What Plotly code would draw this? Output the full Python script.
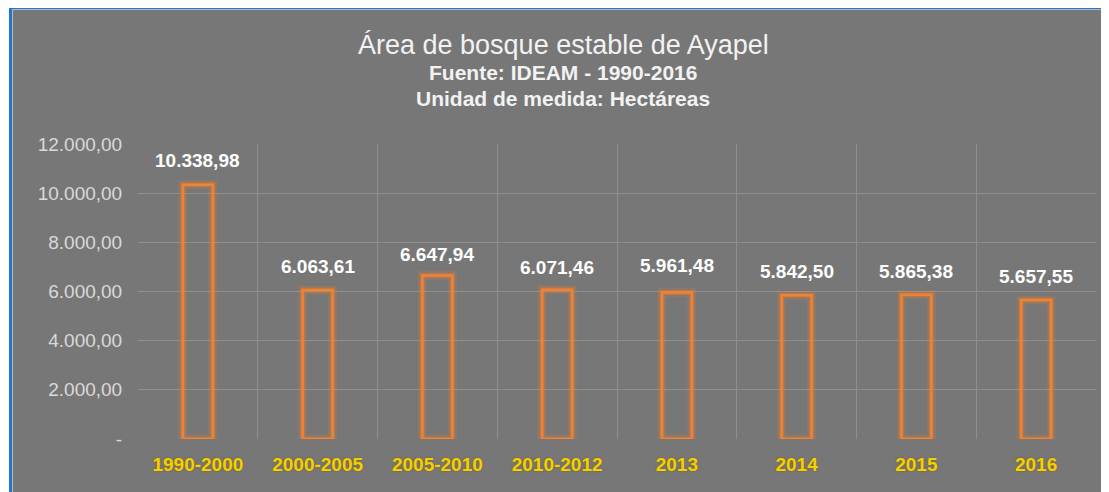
import plotly.graph_objects as go

categories = ["1990-2000", "2000-2005", "2005-2010", "2010-2012", "2013", "2014", "2015", "2016"]
values = [10338.98, 6063.61, 6647.94, 6071.46, 5961.48, 5842.50, 5865.38, 5657.55]
value_labels = ["10.338,98", "6.063,61", "6.647,94", "6.071,46", "5.961,48", "5.842,50", "5.865,38", "5.657,55"]
label_shift = [24, 23, 21, 22, 27, 24, 23, 23]
y_tickvals = [0, 2000, 4000, 6000, 8000, 10000, 12000]
y_ticktext = ["-", "2.000,00", "4.000,00", "6.000,00", "8.000,00", "10.000,00", "12.000,00"]

W, H = 1109, 492
OFF = 8  # page body margin offset
ML, MT = 138 - OFF, 144 - OFF
MR = W - (1096 - OFF)
MB = H - (439 - OFF)
PW, PH = W - ML - MR, H - MT - MB

def px(x):
    return (x - OFF - ML) / PW

def py(y):
    return (H - MB - (y - OFF)) / PH

BG = "#777777"
GRID = "#8F8F8F"
FONT = "Liberation Sans, Arial, sans-serif"

fig = go.Figure()
# glow layers
fig.add_trace(go.Bar(
    x=categories, y=values, width=0.25,
    marker=dict(color="rgba(0,0,0,0)", line=dict(color="rgba(240,128,48,0.18)", width=9)),
    hoverinfo="skip", showlegend=False,
))
fig.add_trace(go.Bar(
    x=categories, y=values, width=0.25,
    marker=dict(color="rgba(0,0,0,0)", line=dict(color="rgba(240,128,48,0.35)", width=5)),
    hoverinfo="skip", showlegend=False,
))
# main outline
fig.add_trace(go.Bar(
    x=categories, y=values, width=0.25,
    marker=dict(color="rgba(0,0,0,0)", line=dict(color="#F2822F", width=2.5)),
    showlegend=False,
))

for i, (v, t, s) in enumerate(zip(values, value_labels, label_shift)):
    fig.add_annotation(x=i, y=v, text=f"<b>{t}</b>", showarrow=False, yshift=s,
                       xanchor="center", yanchor="middle",
                       font=dict(family=FONT, size=19, color="#FFFFFF"))

# titles
tx = px(563)
fig.add_annotation(x=tx, y=py(45), xref="paper", yref="paper", showarrow=False,
                   text="Área de bosque estable de Ayapel", xanchor="center", yanchor="middle",
                   font=dict(family=FONT, size=27, color="#F2F2F2"))
fig.add_annotation(x=tx, y=py(72), xref="paper", yref="paper", showarrow=False,
                   text="<b>Fuente: IDEAM - 1990-2016</b>", xanchor="center", yanchor="middle",
                   font=dict(family=FONT, size=21, color="#F2F2F2"))
fig.add_annotation(x=tx, y=py(98), xref="paper", yref="paper", showarrow=False,
                   text="<b>Unidad de medida: Hectáreas</b>", xanchor="center", yanchor="middle",
                   font=dict(family=FONT, size=21, color="#F2F2F2"))

# frame: white margins and blue border
fig.add_shape(type="rect", xref="paper", yref="paper", x0=px(-10), x1=px(W + 10), y0=py(-10), y1=py(6),
              fillcolor="white", line=dict(width=0), layer="above")
fig.add_shape(type="rect", xref="paper", yref="paper", x0=px(-10), x1=px(9), y0=py(H + 10), y1=py(-10),
              fillcolor="white", line=dict(width=0), layer="above")
fig.add_shape(type="line", xref="paper", yref="paper", x0=px(10), x1=px(W + 10), y0=py(7.5), y1=py(7.5),
              line=dict(color="#1F77D0", width=3), layer="above")
fig.add_shape(type="line", xref="paper", yref="paper", x0=px(10.5), x1=px(10.5), y0=py(6), y1=py(H + 10),
              line=dict(color="#1F77D0", width=3), layer="above")
fig.add_shape(type="line", xref="paper", yref="paper", x0=px(12), x1=px(W + 10), y0=py(9.5), y1=py(9.5),
              line=dict(color="#B8B8B8", width=1), layer="above")
fig.add_shape(type="line", xref="paper", yref="paper", x0=px(12.5), x1=px(12.5), y0=py(9), y1=py(H + 10),
              line=dict(color="#B8B8B8", width=1), layer="above")

fig.update_layout(
    width=W, height=H,
    margin=dict(l=ML, r=MR, t=MT, b=MB, pad=0, autoexpand=False),
    paper_bgcolor=BG, plot_bgcolor=BG,
    barmode="overlay",
    showlegend=False,
    font=dict(family=FONT),
)
fig.update_xaxes(
    type="category", range=[-0.5, len(categories) - 0.5], autorange=False,
    tickson="boundaries", showgrid=True, gridcolor=GRID, gridwidth=1,
    showline=False, zeroline=False, ticks="outside", ticklen=14, tickcolor=BG,
    ticklabelstandoff=12,
    tickangle=0, automargin=False,
    tickfont=dict(family=FONT, size=19, color="#F5D000", shadow="0px 0px 2px rgba(120,90,0,0.8)"),
    tickprefix="<b>", ticksuffix="</b>",
)
fig.update_yaxes(
    range=[0, 12000], autorange=False, tickvals=y_tickvals, ticktext=y_ticktext,
    showgrid=True, gridcolor=GRID, gridwidth=1, zeroline=False, showline=False,
    ticks="outside", ticklen=11, tickcolor=BG, automargin=False,
    tickfont=dict(family=FONT, size=19, color="#D9D9D9"),
)

fig.write_html("out.html")
